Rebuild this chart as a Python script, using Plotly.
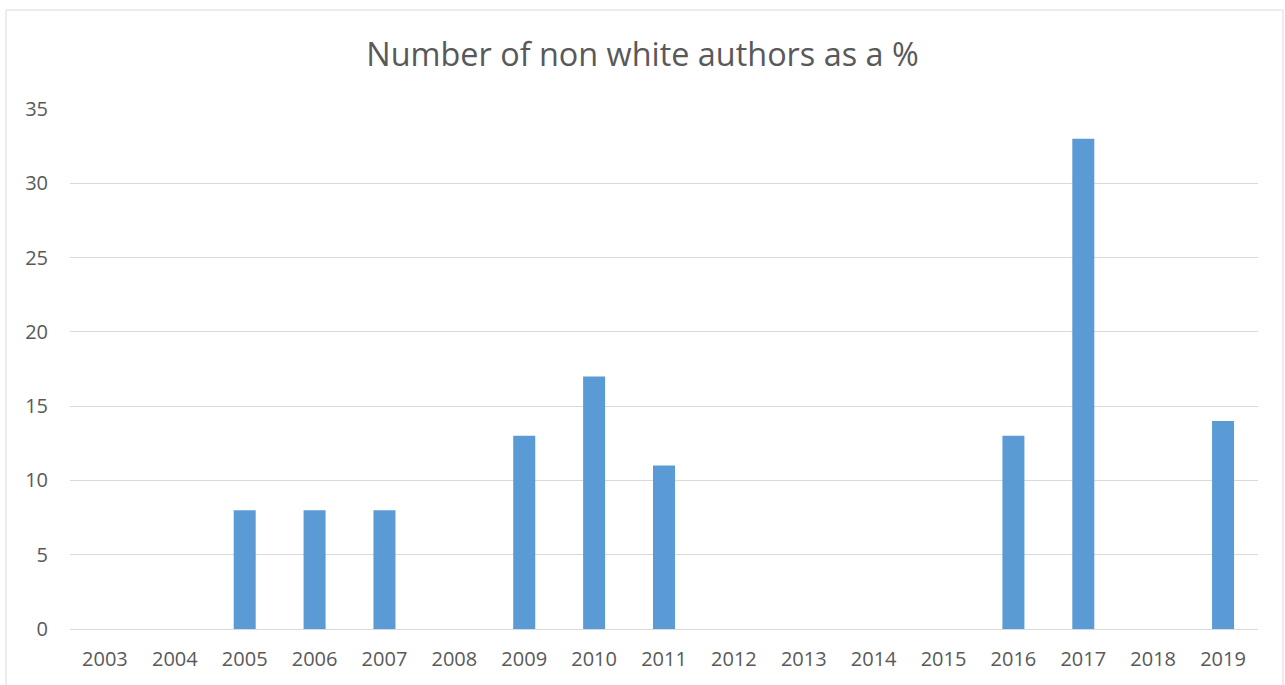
import plotly.graph_objects as go

years = ["2003", "2004", "2005", "2006", "2007", "2008", "2009", "2010", "2011",
         "2012", "2013", "2014", "2015", "2016", "2017", "2018", "2019"]
values = [0, 0, 8, 8, 8, 0, 13, 17, 11, 0, 0, 0, 0, 13, 33, 0, 14]
y_ticks = [0, 5, 10, 15, 20, 25, 30, 35]

W, H = 1285, 685
L, R, T, B = 70, 27, 109, 56
pw, ph = W - L - R, H - T - B

fig = go.Figure(go.Bar(x=years, y=values, marker=dict(color="#5b9bd5", line=dict(width=0))))

fig.update_layout(
    width=W, height=H,
    margin=dict(l=L, r=R, t=T, b=B),
    paper_bgcolor="white", plot_bgcolor="white",
    bargap=0.685,
    showlegend=False,
    font=dict(family="Open Sans, Liberation Sans, sans-serif", color="#595959", size=20),
    title=dict(text="Number of non white authors as a %", x=0.5, xanchor="center",
               y=1 - 55 / H, yanchor="middle", font=dict(size=32.4, color="#595959")),
)
fig.update_xaxes(type="category", showgrid=False, showline=False, ticks="", ticklabelstandoff=16,
                 tickfont=dict(size=20))
fig.update_yaxes(range=[0, 35], tickvals=y_ticks, showgrid=True, gridcolor="#d9d9d9", gridwidth=1,
                 zeroline=True, zerolinecolor="#d9d9d9", zerolinewidth=1, showline=False,
                 ticks="", ticklabelstandoff=21, tickfont=dict(size=20))

fig.add_shape(type="rect", xref="paper", yref="paper",
              x0=(6 - L) / pw, x1=(1283 - L) / pw,
              y0=(H - T - 700) / ph, y1=(H - B - 10) / ph,
              line=dict(color="#d9d9d9", width=1), fillcolor="rgba(0,0,0,0)", layer="below")

fig.write_html("out.html")
